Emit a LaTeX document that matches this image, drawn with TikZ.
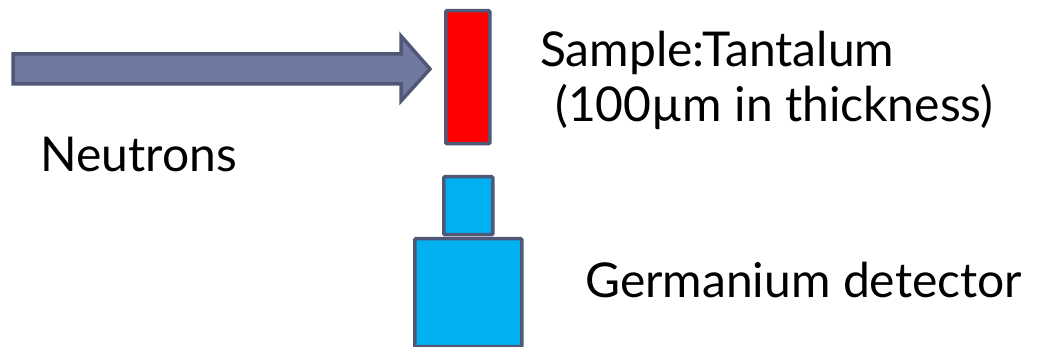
\documentclass[tikz,border=0pt]{standalone}
\usepackage{fontspec}
\setmainfont{Lato}
\definecolor{edge}{RGB}{80,88,120}
\definecolor{arrowfill}{RGB}{112,122,160}
\definecolor{detblue}{RGB}{0,176,240}
\begin{document}
\begin{tikzpicture}[x=1pt,y=-1pt,
  part/.style={draw=edge,line width=3.5pt,rounded corners=1pt,inner sep=0pt,anchor=north west},
  lbl/.style={inner sep=0pt,anchor=base west,font=\fontsize{48}{58}\selectfont}]
\useasboundingbox (0,0) rectangle (1037,347);
% neutron beam arrow
\draw[draw=edge,fill=arrowfill,line width=3.5pt,line join=miter]
  (13,54) -- (401,54) -- (401,36) -- (430,69) -- (401,101) -- (401,84) -- (13,84) -- cycle;
% sample
\node[part,fill=red,minimum width=44pt,minimum height=133pt] (sample) at (444,9) {};
% detector
\node[part,fill=detblue,minimum width=49pt,minimum height=58pt] (dethead) at (442,175) {};
\node[part,fill=detblue,minimum width=107pt,minimum height=108pt] (detbody) at (413,237) {};
% labels
\node[lbl] (neutrons) at (40,172) {Neutrons};
\node[lbl] (samplelbl) at (540,67) {Sample:Tantalum};
\node[lbl] (thick) at (555,122) {(100µm in thickness)};
\node[lbl] (detlbl) at (585,298) {Germanium detector};
\end{tikzpicture}
\end{document}
